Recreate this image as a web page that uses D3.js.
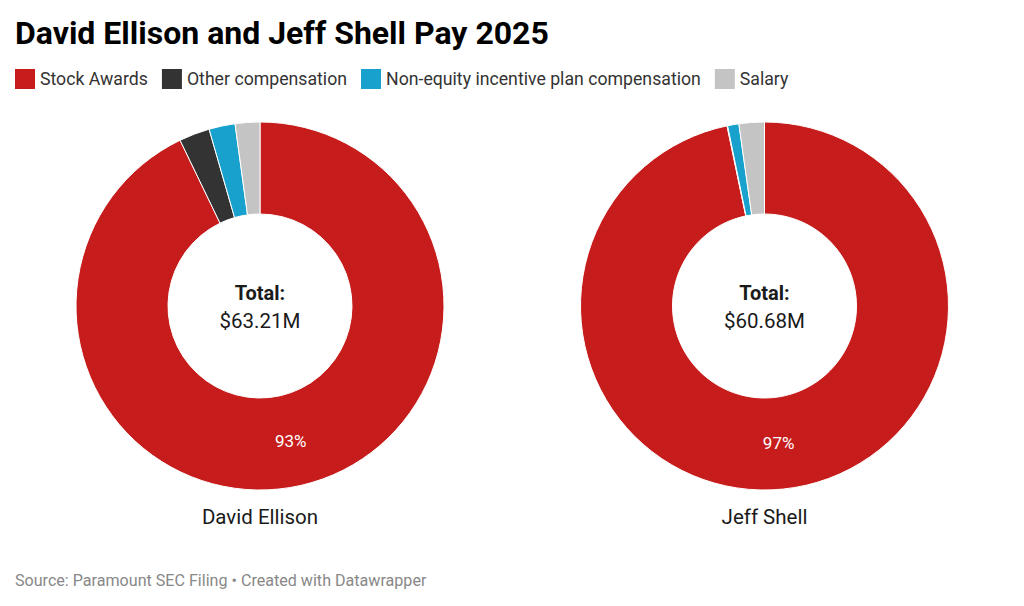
<!DOCTYPE html>
<html><head><meta charset="utf-8">
<script src="https://cdn.jsdelivr.net/npm/d3@7"></script>
<style>
body{margin:0;background:#fff;font-family:Roboto,"Noto Sans",sans-serif;}
</style></head><body>
<svg id="c" width="1024" height="606"></svg>
<script>
const categories = ["Stock Awards","Other compensation","Non-equity incentive plan compensation","Salary"];
const colors = ["#c71c1c","#333333","#18a1cd","#c4c4c4"];
const people = ["David Ellison","Jeff Shell"];
const ellisonValues = [58.69, 1.70, 1.45, 1.37];
const shellValues = [58.70, 0.03, 0.60, 1.35];
const totals = ["$63.21M","$60.68M"];
const pctLabels = ["93%","97%"];
const series = [ellisonValues, shellValues];

const svg = d3.select("#c");
svg.append("text").attr("x",15).attr("y",44).attr("font-size",32).attr("font-weight",700)
  .attr("fill","#000").text("David Ellison and Jeff Shell Pay 2025");

// legend
let lx = 15;
const leg = svg.append("g");
categories.forEach((c,i)=>{
  leg.append("rect").attr("x",lx).attr("y",69).attr("width",20).attr("height",20).attr("fill",colors[i]);
  const t = leg.append("text").attr("x",lx+25).attr("y",85).attr("font-size",17.7).attr("fill","#333").text(c);
  lx += 25 + t.node().getComputedTextLength() + 14;
});

const color = d3.scaleOrdinal().domain(categories).range(colors);
const xPos = d3.scalePoint().domain(people).range([260,764.5]);
const cy = 306, R = 184, r0 = 92;
const pie = d3.pie().sort(null).value(d=>d.v);
const arc = d3.arc().innerRadius(r0).outerRadius(R);

people.forEach((p,pi)=>{
  const g = svg.append("g").attr("transform",`translate(${xPos(p)},${cy})`);
  const data = categories.map((c,i)=>({c, v: series[pi][i]}));
  const arcs = pie(data);
  g.selectAll("path").data(arcs).join("path")
    .attr("d",arc).attr("fill",d=>color(d.data.c))
    .attr("stroke","#fff").attr("stroke-width",1);
  const c0 = arc.centroid(arcs[0]);
  g.append("text").attr("x",c0[0]).attr("y",c0[1]+6).attr("text-anchor","middle")
    .attr("font-size",17).attr("fill","#fff").text(pctLabels[pi]);
  g.append("text").attr("y",-6).attr("text-anchor","middle").attr("font-size",20)
    .attr("font-weight",700).attr("fill","#1a1a1a").text("Total:");
  g.append("text").attr("y",22).attr("text-anchor","middle").attr("font-size",20.5)
    .attr("fill","#1a1a1a").text(totals[pi]);
  svg.append("text").attr("x",xPos(p)).attr("y",524).attr("text-anchor","middle")
    .attr("font-size",20.5).attr("fill","#1a1a1a").text(p);
});

svg.append("text").attr("x",15).attr("y",586).attr("font-size",16.1).attr("fill","#888")
  .text("Source: Paramount SEC Filing • Created with Datawrapper");
</script>
</body></html>
